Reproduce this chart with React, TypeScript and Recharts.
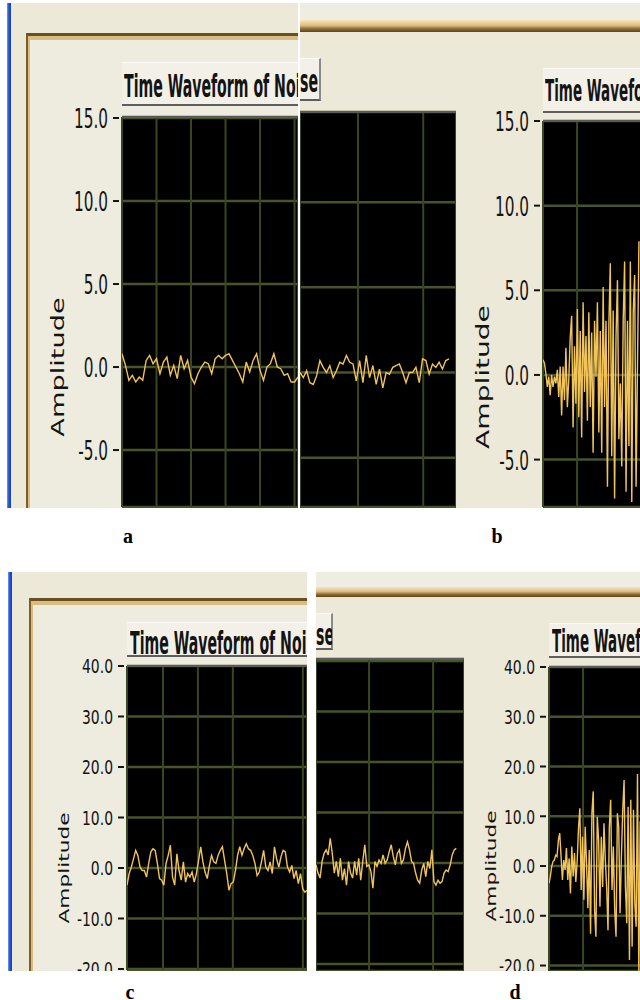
import type { ReactNode } from "react";
import { CartesianGrid, Line, LineChart, XAxis, YAxis } from "recharts";

// panel a – left screenshot and its continuation
const noiseA1 = [0.8, 0.1, -0.8, -0.5, -0.9, -0.6, -0.8, 0.4, 0.7, 0.2, 0.5, -0.4, 0.3, 0.6, -0.5, 0.1, -0.7, 0.7, -0.1, 0.4, -0.6, -1.0, -0.4, 0.0, 0.3, 0.2, -0.4, 0.5, 0.7, 0.5, 0.7, 0.8, 0.4, 0.0, -0.4, -0.9, 0.3, -0.3, 0.4, 0.8, -0.2, -0.8, 0.0, 0.2, 0.8, 0.0, -0.1, -0.5, -0.4, -0.9, -0.9, -0.6];
const noiseA2 = [0, -0.3, 0.1, -0.6, -0.7, -0.2, 0.7, 0.3, 0, 0.4, -0.3, 0.1, 0.6, 0.5, 1.0, 0.6, 0.5, -0.5, 0.7, -0.6, 1.0, -0.3, 0.4, -0.7, 0.2, -0.9, 0, -0.1, 0.3, 0.4, 0.5, 0, -0.6, 0, 0, 0.3, -0.6, 0.8, 0.7, -0.1, 0.5, 0.3, 0.6, 0.2, 0.7, 0.8];
// panel b
const waveB = [0.9, 0.7, 0.1, -0.7, -0.1, -1.2, 0, -0.7, -0.1, -0.5, 0.3, -1.3, 0.5, -2.4, 0.5, -1.5, 1.6, -1.9, -0.3, 2.2, 3.5, -3.1, 1.7, -1.7, 3.9, -2.5, 2.6, -3.7, 4.3, -1.0, 2.3, -2.7, 3.7, -1.9, 2.5, -4.6, 3.2, -0.1, 4.3, -3.4, 2.6, -4.6, 5.2, -1.9, 3.2, -6.6, 3.0, 6.6, -4.8, 3.8, -7.3, 2.3, 5.6, -3.8, -0.5, -5.4, 3.2, 6.7, -6.9, 3.2, -4.2, 6.7, -7.5, 3.7, 5.9, -6.6, 0.7, 7.9];
// panel c – left screenshot and its continuation
const noiseC1 = [-3.4, -1.1, 0.2, 1.8, 3.5, 2.5, 0.2, -0.5, -0.5, -1.8, 0.9, 3.2, 3.8, 3.5, 0.9, -2.1, -2.4, -3.4, 0.9, 2.5, 4.5, -1.8, -3.4, 2.8, -0.5, -2.4, 1.2, -2.8, -1.1, -1.8, -0.8, -2.8, -1.1, 1.5, 4.2, 1.2, -0.8, -2.1, 0.5, 2.5, 1.2, 0.9, 2.5, 3.5, 4.2, 1.5, -1.1, -4.4, -3.1, -2.8, -0.5, 2.5, 4.2, 2.5, 3.8, 4.8, 3.8, 3.5, 2.5, 0.9, -1.5, -0.8, 1.2, 3.5, 0.2, -0.5, 1.2, -1.1, 4.2, 1.8, 0.2, 2.2, 3.5, 3.2, 0.2, -0.8, 0.5, -2.1, -0.5, -3.1, -1.1, -4.1, -4.8, -4.4];
const noiseC2 = [-0.4, -2.0, -3.0, 0.3, 1.9, 2.6, 1.6, 4.9, 1.9, -2.0, 0.3, -2.7, 0.9, -3.4, -1.1, -4.4, 0.3, -2.0, -3.0, 0.3, -2.4, 0.9, -3.4, 0.3, 3.6, -0.7, -0.4, -1.7, -5.0, 0.3, -0.7, 0.6, -0.1, 1.6, -0.1, 0.6, 2.2, 3.6, 1.3, -0.4, 1.9, 2.6, -0.1, 0.6, 2.9, 4.2, 2.6, 0.3, -0.1, -2.0, -3.4, -4.0, -1.4, -0.1, -2.7, 0.3, -1.1, 2.6, -3.7, -4.4, -3.4, -4.0, -3.7, -2.0, -1.4, -1.7, -0.4, 1.6, 2.6, 2.9];
// panel d
const waveD = [-3.5, -2.1, -0.1, 0.9, 1.2, 2.2, 1.9, 5.2, 6.6, 1.9, -2.8, 1.2, -0.8, 3.6, -2.8, 1.5, -5.5, 3.9, -2.1, 2.6, -3.2, 0.9, 7.6, 11.6, -4.8, 5.9, -6.8, 7.9, 0.5, -8.5, 3.2, -13.6, 10.6, 15.0, -8.9, -14.2, 9.9, 5.2, -8.2, 5.9, -4.2, 8.6, 1.2, -4.2, -12.9, 7.9, 13.3, -4.8, 3.9, -8.9, -14.2, 10.6, 7.9, -9.5, 1.9, 11.3, 17.3, -4.2, -11.5, 11.9, -18.9, 13.3, -16.2, 11.3, -7.5, -12.2, 18.5, -22, 9];

const ticksTop = [15, 10, 5, 0, -5];
const ticksTopInner = [10, 5, 0, -5];
const ticksBottom = [40, 30, 20, 10, 0, -10, -20];
const gridA1 = [0, 10, 20, 30, 40, 50];
const gridA2 = [7.85, 17.5, 27.5, 37.2];
const gridB = [0, 23.8, 46.2, 68.6];
const gridC1 = [0, 16.6, 32.7, 48.8, 64.9, 81.1];
const gridC2 = [10.8, 26.1, 42.4, 57.6];
const gridD = [0, 25.4, 47.8, 70.2];

// titles as they show in each cut screenshot
const TITLE_LEFT = "Time Waveform of Noi";
const TITLE_CONT = "se";
const TITLE_RIGHT = "Time Wavefo";
const Y_LABEL = "Amplitude";

const BEIGE = "#ece9d8";
const INNER = "#eeebdf";
const INK = "#141414";
const TRACE = "#f0c45a";
const GRID_H = "#47542b";
const GRID_V = "#3a4620";
const COND = "'DejaVu Sans Condensed', 'DejaVu Sans', sans-serif";

const scopeTick = (size: number, stretch: number) => (props: any) => {
	const { x, y, payload } = props;
	return (
		<g>
			<rect x={x - 9} y={y - 1} width={6} height={2} fill={INK} />
			<text
				x={0}
				y={0}
				dy={0.365 * size}
				transform={`translate(${x - 14} ${y}) scale(1 ${stretch})`}
				textAnchor="end"
				fontFamily={COND}
				fontStretch="condensed"
				fontSize={size}
				fill={INK}
			>
				{Number(payload.value).toFixed(1)}
			</text>
		</g>
	);
};

interface ScopeProps {
	x: number;
	y: number;
	w: number;
	h: number;
	values: number[];
	yDomain: [number, number];
	yTicks: number[];
	xDomain: [number, number];
	xTicks: number[];
	tick?: (props: any) => any;
}

function Scope({ x, y, w, h, values, yDomain, yTicks, xDomain, xTicks, tick }: ScopeProps) {
	const axisW = tick ? 60 : 0;
	const pad = 14;
	const rows = values.map((v, i) => ({ t: i, v }));
	return (
		<div style={{ position: "absolute", left: x - axisW, top: y - pad }}>
			<LineChart
				width={axisW + w}
				height={h + pad * 2}
				data={rows}
				margin={{ top: pad, right: 0, bottom: pad, left: 0 }}
			>
				<CartesianGrid
					fill="#000"
					horizontal={(p: any) => (
						<line key={p.key} x1={p.x1} y1={p.y1} x2={p.x2} y2={p.y2} stroke={GRID_H} strokeWidth={2.5} />
					)}
					vertical={(p: any) => (
						<line key={p.key} x1={p.x1} y1={p.y1} x2={p.x2} y2={p.y2} stroke={GRID_V} strokeWidth={2} />
					)}
				/>
				<XAxis type="number" dataKey="t" domain={xDomain} ticks={xTicks} hide allowDataOverflow />
				<YAxis
					type="number"
					domain={yDomain}
					ticks={yTicks}
					width={axisW}
					hide={!tick}
					axisLine={false}
					tickLine={false}
					tickSize={0}
					tickMargin={0}
					interval={0}
					tick={tick}
					allowDataOverflow
				/>
				<Line
					type="linear"
					dataKey="v"
					stroke={TRACE}
					strokeWidth={1.4}
					dot={false}
					isAnimationActive={false}
				/>
			</LineChart>
			<div
				style={{
					position: "absolute",
					left: axisW,
					top: pad - 1,
					width: w,
					height: 2,
					background: "#5a5a5a",
				}}
			/>
		</div>
	);
}

function Piece({ x, y, w, h, children }: { x: number; y: number; w: number; h: number; children: ReactNode }) {
	return (
		<div style={{ position: "absolute", left: x, top: y, width: w, height: h, overflow: "hidden" }}>
			<div style={{ position: "absolute", left: -x, top: -y, width: 640, height: 1000 }}>{children}</div>
		</div>
	);
}

function Stretched({
	left,
	maxW,
	baseline,
	size,
	sy,
	children,
}: {
	left: number;
	maxW: number;
	baseline: number;
	size: number;
	sy: number;
	children: ReactNode;
}) {
	return (
		<div
			style={{
				position: "absolute",
				left,
				top: baseline - 0.846 * size,
				width: maxW,
				height: size + 3,
				overflow: "hidden",
				fontFamily: COND,
				fontStretch: "condensed",
				fontWeight: "bold",
				fontSize: size,
				lineHeight: `${size}px`,
				whiteSpace: "nowrap",
				color: INK,
				transform: `scaleY(${sy})`,
				transformOrigin: `0 ${0.846 * size}px`,
			}}
		>
			{children}
		</div>
	);
}

function AmpLabel({ cx, cy, size, sx }: { cx: number; cy: number; size: number; sx: number }) {
	return (
		<div
			style={{
				position: "absolute",
				left: cx - 60,
				top: cy - 12,
				width: 120,
				height: 24,
				lineHeight: "24px",
				textAlign: "center",
				fontFamily: "'DejaVu Sans', sans-serif",
				fontSize: size,
				color: INK,
				transform: `rotate(-90deg) scaleX(${sx})`,
			}}
		>
			{Y_LABEL}
		</div>
	);
}

function Box({ x, y, w, h }: { x: number; y: number; w: number; h: number }) {
	return (
		<div
			style={{
				position: "absolute",
				left: x,
				top: y,
				width: w,
				height: h,
				background: "#f3f1e7",
				borderTop: "1px solid #fbfaf4",
				borderBottom: "2px solid #5e5e5e",
				borderRight: "2px solid #8a8a8a",
				boxSizing: "border-box",
			}}
		/>
	);
}

function Frame({ x, y, blueX }: { x: number; y: number; blueX: number }) {
	return (
		<>
			<div
				style={{
					position: "absolute",
					left: blueX,
					top: 0,
					width: 4,
					height: 1000,
					background: "linear-gradient(90deg, #7a98e4, #1f52d8 45%, #1a3fae)",
				}}
			/>
			<div style={{ position: "absolute", left: blueX + 4, top: 0, width: 640, height: 1000, background: BEIGE }} />
			<div
				style={{
					position: "absolute",
					left: x,
					top: y,
					width: 640,
					height: 1000,
					background: INNER,
					borderTop: "3px solid #6c4f20",
					borderLeft: "2px solid #7b5d29",
					boxShadow: "inset 2px 4px 0 0 #d9bc82",
				}}
			/>
		</>
	);
}

function TopStrip({ y, barY, barH }: { y: number; barY: number; barH: number }) {
	return (
		<>
			<div style={{ position: "absolute", left: 0, top: y, width: 640, height: 1000, background: BEIGE }} />
			<div style={{ position: "absolute", left: 0, top: y, width: 640, height: barY - y, background: "#efede2" }} />
			<div
				style={{
					position: "absolute",
					left: 0,
					top: barY,
					width: 640,
					height: barH,
					background: "linear-gradient(#f7e7bd, #dcbd82 45%, #8a6a34 75%, #5f4419)",
				}}
			/>
		</>
	);
}

function Letter({ cx, baseline, children }: { cx: number; baseline: number; children: ReactNode }) {
	return (
		<div
			style={{
				position: "absolute",
				left: cx - 20,
				top: baseline - 16.75,
				width: 40,
				textAlign: "center",
				fontFamily: "'Liberation Serif', serif",
				fontWeight: "bold",
				fontSize: 20,
				lineHeight: "20px",
				color: "#000",
			}}
		>
			{children}
		</div>
	);
}

export default function App() {
	const tickTop = scopeTick(17, 1.6);
	const tickBottom = scopeTick(15.5, 1.3);
	return (
		<div
			style={{
				position: "absolute",
				left: 0,
				top: 0,
				width: 640,
				height: 1000,
				background: "#fff",
				overflow: "hidden",
			}}
		>
			{/* a – left screenshot */}
			<Piece x={0} y={3} w={298} h={505}>
				<Frame x={26} y={33} blueX={7} />
				<Box x={122} y={62} w={220} h={44} />
				<Stretched left={124} maxW={174} baseline={97} size={15.7} sy={2.0}>
					{TITLE_LEFT}
				</Stretched>
				<AmpLabel cx={58} cy={367} size={17} sx={1.6} />
				<Scope
					x={122}
					y={117}
					w={176}
					h={390}
					values={noiseA1}
					yDomain={[-8.43, 15.06]}
					yTicks={ticksTop}
					xDomain={[0, 51]}
					xTicks={gridA1}
					tick={tickTop}
				/>
			</Piece>

			{/* a continuation + b */}
			<Piece x={300} y={3} w={340} h={505}>
				<TopStrip y={3} barY={20} barH={12} />
				<Box x={290} y={58} w={31} h={43} />
				<Stretched left={300} maxW={19} baseline={92} size={15.7} sy={2.0}>
					{TITLE_CONT}
				</Stretched>
				<Scope
					x={300}
					y={112}
					w={156}
					h={395}
					values={noiseA2}
					yDomain={[-7.9, 15.3]}
					yTicks={ticksTopInner}
					xDomain={[0, 47.1]}
					xTicks={gridA2}
				/>
				<Box x={543} y={68} w={140} h={45} />
				<Stretched left={545} maxW={95} baseline={103} size={15} sy={1.95}>
					{TITLE_RIGHT}
				</Stretched>
				<AmpLabel cx={483} cy={377} size={17} sx={1.65} />
				<Scope
					x={543}
					y={121}
					w={120}
					h={386}
					values={waveB}
					yDomain={[-7.8, 15]}
					yTicks={ticksTop}
					xDomain={[0, 83.8]}
					xTicks={gridB}
					tick={tickTop}
				/>
			</Piece>

			{/* c – left screenshot */}
			<Piece x={0} y={572} w={307} h={399}>
				<Frame x={29} y={598} blueX={8} />
				<Box x={127} y={622} w={220} h={35} />
				<Stretched left={130} maxW={177} baseline={654} size={15.7} sy={2.05}>
					{TITLE_LEFT}
				</Stretched>
				<AmpLabel cx={64} cy={868} size={14} sx={1.55} />
				<Scope
					x={127}
					y={666}
					w={180}
					h={304}
					values={noiseC1}
					yDomain={[-20.2, 40]}
					yTicks={ticksBottom}
					xDomain={[0, 83]}
					xTicks={gridC1}
					tick={tickBottom}
				/>
			</Piece>

			{/* c continuation + d */}
			<Piece x={316} y={572} w={324} h={399}>
				<TopStrip y={572} barY={587} barH={10} />
				<Box x={300} y={613} w={33} h={37} />
				<Stretched left={316} maxW={16} baseline={645} size={15.7} sy={1.95}>
					{TITLE_CONT}
				</Stretched>
				<Scope
					x={316}
					y={659}
					w={148}
					h={312}
					values={noiseC2}
					yDomain={[-21.4, 40.4]}
					yTicks={ticksBottom}
					xDomain={[0, 72.8]}
					xTicks={gridC2}
				/>
				<Box x={549} y={623} w={140} h={35} />
				<Stretched left={552} maxW={88} baseline={654} size={15} sy={2.1}>
					{TITLE_RIGHT}
				</Stretched>
				<AmpLabel cx={491} cy={866} size={14} sx={1.55} />
				<Scope
					x={549}
					y={667}
					w={120}
					h={304}
					values={waveD}
					yDomain={[-21.1, 40]}
					yTicks={ticksBottom}
					xDomain={[0, 89.5]}
					xTicks={gridD}
					tick={tickBottom}
				/>
			</Piece>

			<Letter cx={128} baseline={543}>a</Letter>
			<Letter cx={497} baseline={543}>b</Letter>
			<Letter cx={130} baseline={999}>c</Letter>
			<Letter cx={515} baseline={999}>d</Letter>
		</div>
	);
}
